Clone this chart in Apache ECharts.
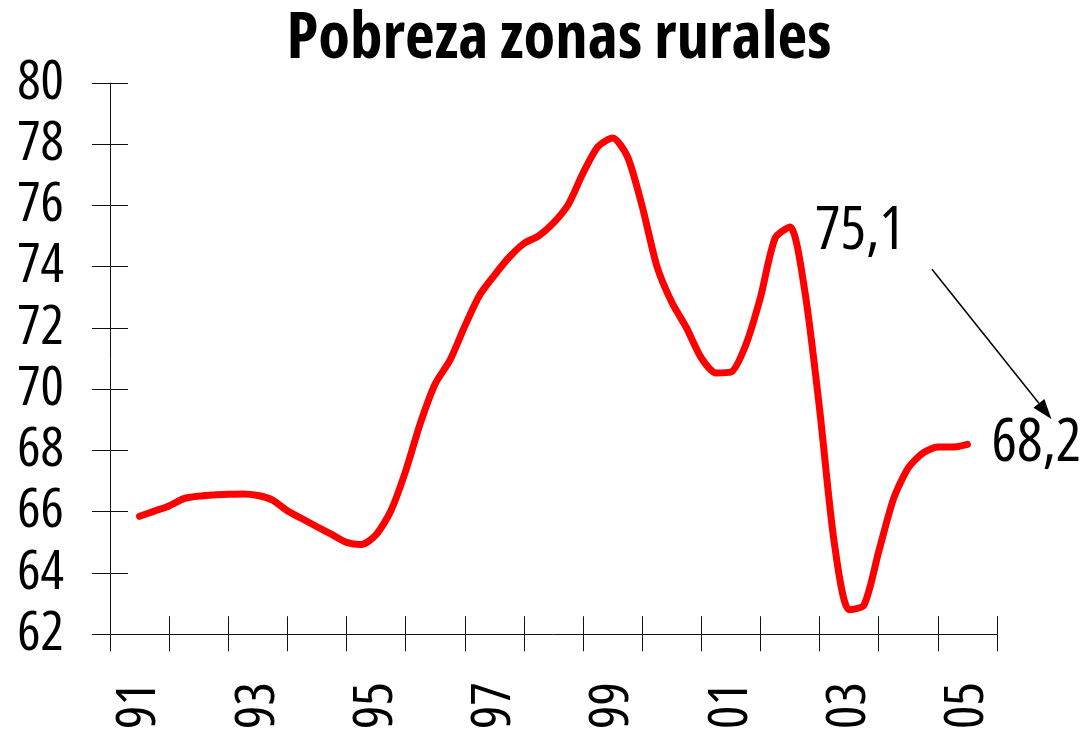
<!DOCTYPE html>
<html>
<head>
<meta charset="utf-8">
<script src="https://cdn.jsdelivr.net/npm/echarts@6/dist/echarts.min.js"></script>
<style>
  html, body { margin: 0; padding: 0; background: #fff; }
  #chart { width: 1087px; height: 732px; }
</style>
</head>
<body>
<div id="chart"></div>
<script>
// year categories on the axis (one slot per year, labels every other)
const years = ['91', '92', '93', '94', '95', '96', '97', '98', '99', '00', '01', '02', '03', '04', '05'];
const yTicks = { min: 62, max: 80, step: 2 };

// quarterly readings, x in decimal years
const timePoints = [
  1991.5, 1991.75, 1992.0, 1992.25, 1992.5, 1992.75, 1993.0, 1993.25, 1993.5, 1993.75,
  1994.0, 1994.25, 1994.5, 1994.75, 1995.0, 1995.25, 1995.5, 1995.75, 1996.0, 1996.25,
  1996.5, 1996.75, 1997.0, 1997.25, 1997.5, 1997.75, 1998.0, 1998.25, 1998.5, 1998.75,
  1999.0, 1999.25, 1999.5, 1999.75, 2000.0, 2000.25, 2000.5, 2000.75, 2001.0, 2001.25,
  2001.5, 2001.75, 2002.0, 2002.25, 2002.5, 2002.75, 2003.0, 2003.25, 2003.5, 2003.75,
  2004.0, 2004.25, 2004.5, 2004.75, 2005.0, 2005.25, 2005.5,
];
const poverty = [
  65.85, 66.02, 66.19, 66.43, 66.51, 66.55, 66.57, 66.58, 66.53, 66.38,
  66.03, 65.77, 65.51, 65.26, 65.0, 64.93, 65.25, 66.03, 67.33, 68.9,
  70.18, 70.95, 72.06, 73.07, 73.72, 74.31, 74.76, 75.01, 75.43, 76.03,
  77.06, 77.92, 78.2, 77.6, 75.97, 74.01, 72.84, 72.0, 71.02, 70.53,
  70.56, 71.44, 73.0, 74.94, 75.3, 73.2, 69.35, 64.96, 62.8, 62.95,
  64.7, 66.42, 67.43, 67.92, 68.11, 68.11, 68.2,
];

// annotation: "75,1" text and the arrow pointing to the last value (data coords)
const peakNote = { text: '75,1', at: [2003.68, 75.15] };
const arrowFrom = [2004.9, 73.92];
const arrowTo = [2006.92, 69.03];

const FONT = "'Open Sans', 'DejaVu Sans Condensed', sans-serif";
const STRETCH = 'condensed';
const INK = '#111';

const chart = echarts.init(document.getElementById('chart'));

const option = {
  backgroundColor: '#fff',
  animation: false,
  title: {
    text: 'Pobreza zonas rurales',
    left: 554,
    textAlign: 'center',
    top: 2,
    textStyle: { fontFamily: FONT, fontStyle: STRETCH, fontSize: 65, fontWeight: 'bold', color: '#000' },
  },
  grid: { left: 110, right: 90, top: 83, bottom: 96, containLabel: false },
  xAxis: [
    {
      type: 'category',
      data: years,
      boundaryGap: true,
      axisLine: { show: true, lineStyle: { color: INK, width: 1 } },
      axisTick: { show: true, inside: false, length: 17, interval: 0, lineStyle: { color: INK } },
      axisLabel: {
        interval: 1, rotate: 90, margin: 48,
        fontFamily: FONT, fontStyle: STRETCH, fontSize: 55, color: '#000',
      },
      splitLine: { show: false },
    },
    {
      // second copy only to let the ticks cross the axis line
      type: 'category',
      data: years,
      position: 'bottom',
      boundaryGap: true,
      axisLine: { show: false },
      axisTick: { show: true, inside: true, length: 18, interval: 0, lineStyle: { color: INK } },
      axisLabel: { show: false },
      splitLine: { show: false },
    },
    {
      type: 'value',
      min: 1991,
      max: 2006,
      show: false,
    },
  ],
  yAxis: [
    {
      type: 'value',
      min: yTicks.min,
      max: yTicks.max,
      interval: yTicks.step,
      axisLine: { show: true, lineStyle: { color: INK, width: 1 } },
      axisTick: { show: true, inside: false, length: 18, lineStyle: { color: INK } },
      axisLabel: { margin: 46, fontFamily: FONT, fontStyle: STRETCH, fontSize: 55, color: '#000' },
      splitLine: { show: false },
    },
    {
      type: 'value',
      position: 'left',
      min: yTicks.min,
      max: yTicks.max,
      interval: yTicks.step,
      axisLine: { show: false },
      axisTick: { show: true, inside: true, length: 18, lineStyle: { color: INK } },
      axisLabel: { show: false },
      splitLine: { show: false },
    },
  ],
  series: [
    {
      name: 'Pobreza rural',
      type: 'line',
      xAxisIndex: 2,
      yAxisIndex: 0,
      data: timePoints.map((t, i) => [t, poverty[i]]),
      smooth: 0.25,
      showSymbol: false,
      symbol: 'none',
      clip: false,
      lineStyle: { color: '#ff0000', width: 7, cap: 'round', join: 'round' },
      endLabel: {
        show: true,
        distance: 24,
        fontFamily: FONT,
        fontStyle: STRETCH,
        fontSize: 60,
        color: '#000',
        formatter: (p) => p.value[1].toFixed(1).replace('.', ','),
      },
    },
  ],
};

chart.setOption(option);

// annotation graphics placed through the chart's own scales
function toPx(pt) {
  return chart.convertToPixel({ xAxisIndex: 2, yAxisIndex: 0 }, pt);
}
const notePx = toPx(peakNote.at);
const a = toPx(arrowFrom);
const b = toPx(arrowTo);
const ang = Math.atan2(b[1] - a[1], b[0] - a[0]);
const headLen = 20, headHalf = 7;
const baseX = b[0] - headLen * Math.cos(ang);
const baseY = b[1] - headLen * Math.sin(ang);
const nx = -Math.sin(ang), ny = Math.cos(ang);

chart.setOption({
  graphic: [
    {
      type: 'text',
      x: notePx[0],
      y: notePx[1],
      style: {
        text: peakNote.text,
        fontFamily: FONT,
        fontStyle: STRETCH,
        fontSize: 60,
        fill: '#000',
        align: 'center',
        verticalAlign: 'middle',
      },
    },
    {
      type: 'line',
      shape: { x1: a[0], y1: a[1], x2: baseX, y2: baseY },
      style: { stroke: '#000', lineWidth: 1.5 },
    },
    {
      type: 'polygon',
      shape: {
        points: [
          [b[0], b[1]],
          [baseX + nx * headHalf, baseY + ny * headHalf],
          [baseX - nx * headHalf, baseY - ny * headHalf],
        ],
      },
      style: { fill: '#000' },
    },
  ],
});

window.addEventListener('resize', () => chart.resize());
</script>
</body>
</html>
